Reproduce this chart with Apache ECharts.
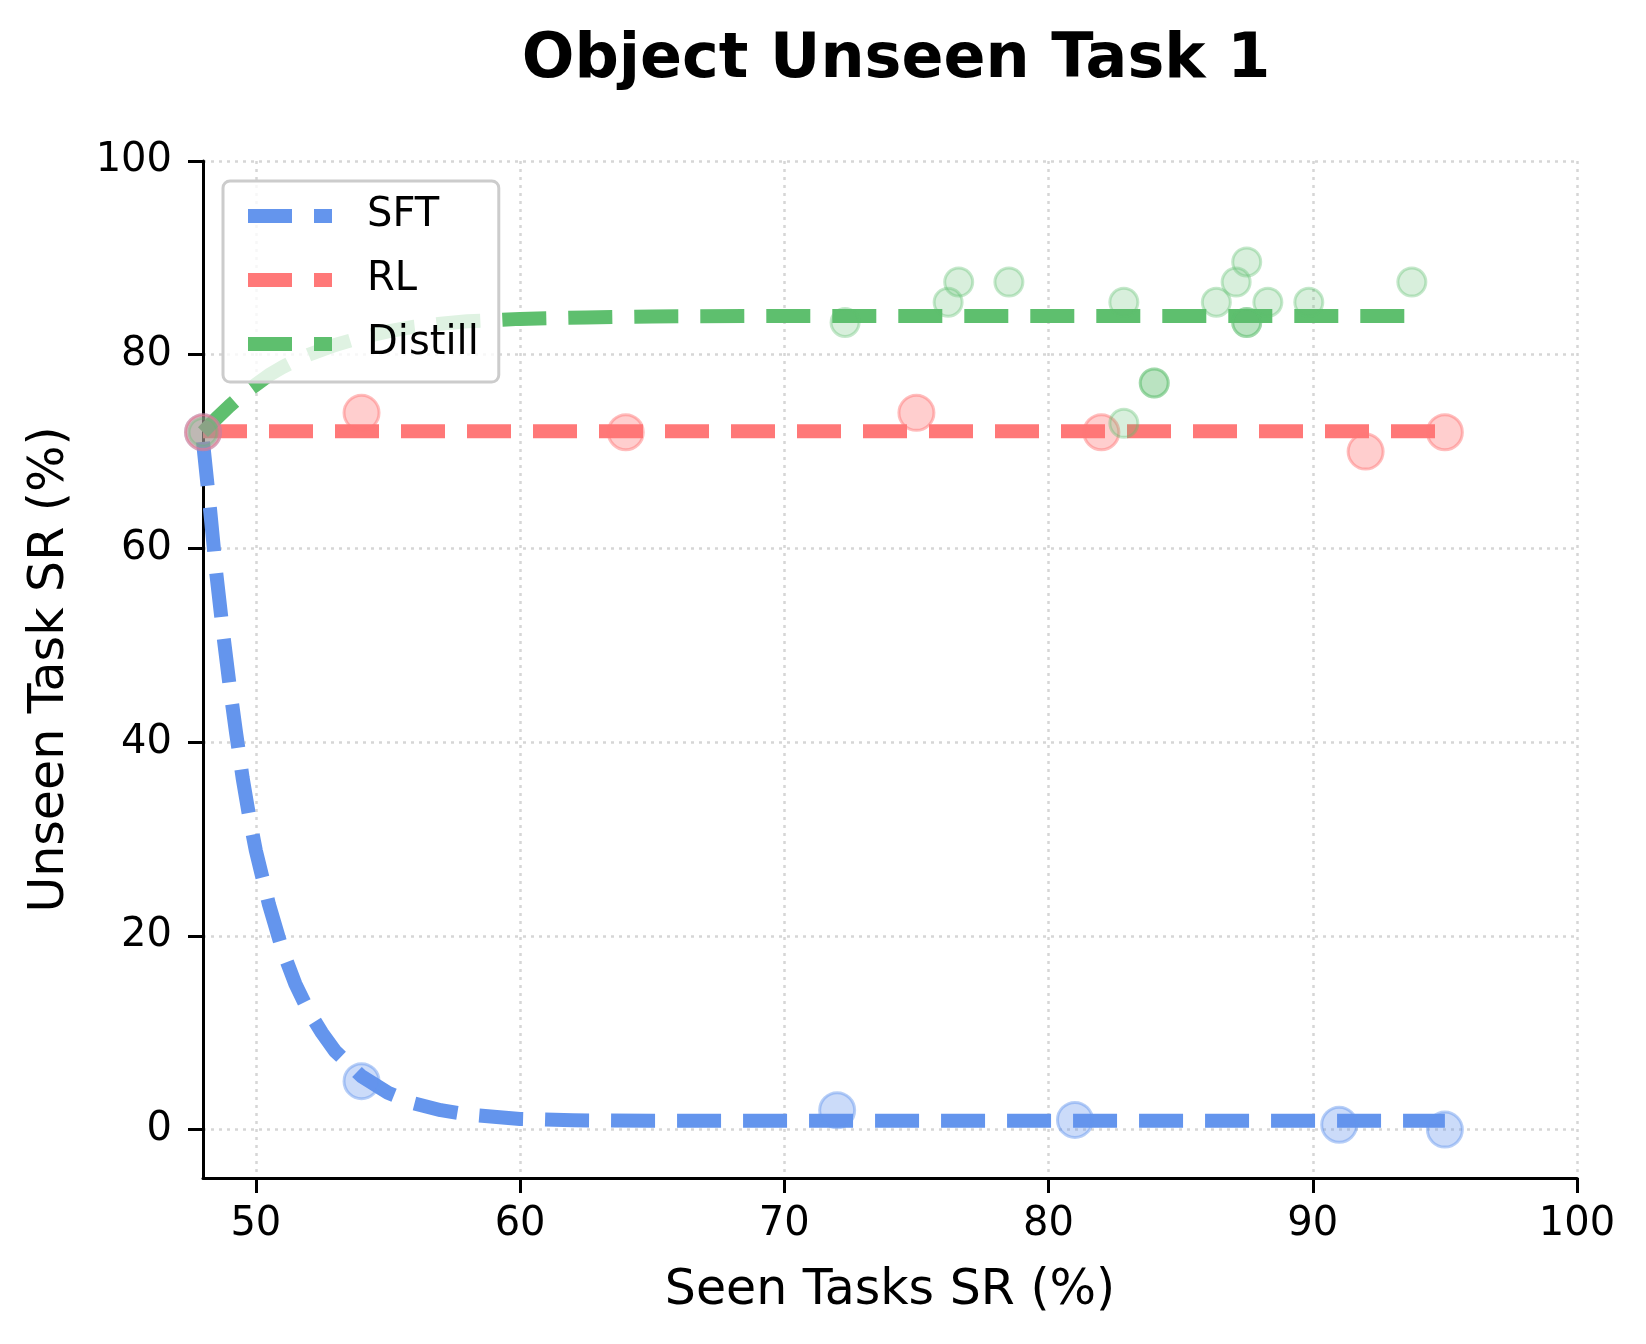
<!DOCTYPE html>
<html><head><meta charset="utf-8">
<script src="https://cdn.jsdelivr.net/npm/echarts@6/dist/echarts.min.js"></script>
<style>html,body{margin:0;padding:0;background:#fff}#c{width:1646px;height:1344px}</style>
</head><body><div id="c"></div>
<script>
// Tick labels
const xTicks = [50, 60, 70, 80, 90, 100];
const yTicks = [0, 20, 40, 60, 80, 100];

// Scatter points (Seen SR, Unseen SR)
const sftX = [48, 54, 72, 81, 91, 95];
const sftY = [72, 5, 2, 1, 0.5, 0];
const rlX = [48, 54, 64, 75, 82, 92, 95];
const rlY = [72, 74, 72, 74, 72, 70, 72];
const distillX = [48, 72.3, 76.2, 76.6, 78.5, 82.85, 82.85, 84.0, 84.0, 86.35, 87.1, 87.5, 87.5, 87.5, 88.3, 89.85, 93.75];
const distillY = [72, 83.33, 85.42, 87.5, 87.5, 85.42, 72.92, 77.08, 77.08, 85.42, 87.5, 89.58, 83.33, 83.33, 85.42, 85.42, 87.5];

// Fitted trend curves
const sftFitX = [48, 48.25, 48.5, 48.75, 49, 49.25, 49.5, 49.75, 50, 50.5, 51, 51.5, 52, 52.5, 53, 54, 55, 56, 57, 58, 60, 62, 65, 95];
const sftFitY = [71, 64.5, 57.5, 51.5, 46, 41, 36.3, 32.3, 28.8, 23.2, 18.6, 15, 12.2, 10, 8.1, 5.5, 3.8, 2.7, 2, 1.55, 1.1, 0.95, 0.9, 0.9];
const rlFitX = [48, 95];
const rlFitY = [72.1, 72.1];
const distillFitX = [48, 48.5, 49, 49.5, 50, 50.5, 51, 51.5, 52, 53, 54, 55, 56, 57, 58, 60, 62.5, 65, 70, 93.8];
const distillFitY = [72, 73.4, 74.7, 75.9, 76.9, 77.9, 78.7, 79.4, 80.0, 81.0, 81.8, 82.4, 82.9, 83.2, 83.45, 83.7, 83.85, 83.95, 84.0, 84.0];

const names = ['SFT', 'RL', 'Distill'];
const colors = ['#6495ED', '#FF7878', '#5EBF6E'];
const FONT = 'DejaVu Sans';

function zip(xs, ys) { return xs.map((x, i) => [x, ys[i]]); }
function hexA(hex, a) {
  const n = parseInt(hex.slice(1), 16);
  return 'rgba(' + ((n >> 16) & 255) + ',' + ((n >> 8) & 255) + ',' + (n & 255) + ',' + a + ')';
}

const fits = [zip(sftFitX, sftFitY), zip(rlFitX, rlFitY), zip(distillFitX, distillFitY)];
const pts = [zip(sftX, sftY), zip(rlX, rlY), zip(distillX, distillY)];
const sizes = [35, 35, 28];
const fillA = [0.42, 0.45, 0.3];

const series = [];
names.forEach((n, i) => {
  series.push({
    name: n, type: 'line', data: fits[i], symbol: 'none', smooth: false, z: 2,
    lineStyle: { color: colors[i], width: 14, type: [44, 22], cap: 'butt', join: 'round' },
    itemStyle: { color: colors[i] }
  });
});
names.forEach((n, i) => {
  series.push({
    name: n + ' points', type: 'scatter', data: pts[i], symbolSize: sizes[i], z: 3,
    itemStyle: { color: hexA(colors[i], fillA[i]), borderColor: hexA(colors[i], fillA[i] + 0.15), borderWidth: 3 }
  });
});

const axisLine = { show: true, onZero: false, lineStyle: { color: '#000', width: 3 } };
const axisTick = { show: true, inside: false, length: 15, lineStyle: { color: '#000', width: 3 } };
const splitLine = { show: true, lineStyle: { color: '#d6d6d6', width: 2.5, type: [3, 5] } };

const option = {
  backgroundColor: '#fff',
  animation: false,
  title: {
    text: 'Object Unseen Task 1', left: 891, top: 25, textAlign: 'center',
    textStyle: { fontFamily: FONT, fontSize: 62, fontWeight: 'bold', color: '#000' }
  },
  legend: {
    data: names, left: 223, top: 181, orient: 'vertical', z: 10,
    padding: [12, 20, 15, 18], itemGap: 18, itemWidth: 84, itemHeight: 14,
    backgroundColor: 'rgba(255,255,255,0.8)', borderColor: '#cccccc', borderWidth: 3, borderRadius: 7,
    itemStyle: { color: 'rgba(0,0,0,0)', borderWidth: 0, opacity: 0 },
    lineStyle: { width: 14, type: [44, 22], cap: 'butt', opacity: 1 },
    textStyle: { fontFamily: FONT, fontSize: 40, lineHeight: 46, color: '#000', padding: [0, 0, 0, 30] }
  },
  grid: { left: 203, top: 161, width: 1374, height: 1017, containLabel: false },
  xAxis: {
    type: 'value', min: 48, max: 100,
    name: 'Seen Tasks SR (%)', nameLocation: 'middle', nameGap: 89,
    nameTextStyle: { fontFamily: FONT, fontSize: 49, color: '#000' },
    axisLine: axisLine, axisTick: Object.assign({ customValues: xTicks }, axisTick),
    axisLabel: { customValues: xTicks, fontFamily: FONT, fontSize: 40, color: '#000', margin: 27 },
    splitLine: splitLine
  },
  yAxis: {
    type: 'value', min: -5, max: 100,
    name: 'Unseen Task SR (%)', nameLocation: 'middle', nameGap: 128,
    nameTextStyle: { fontFamily: FONT, fontSize: 49, color: '#000' },
    axisLine: axisLine, axisTick: Object.assign({ customValues: yTicks }, axisTick),
    axisLabel: { customValues: yTicks, fontFamily: FONT, fontSize: 40, color: '#000', margin: 31 },
    splitLine: splitLine
  },
  series: series
};

const chart = echarts.init(document.getElementById('c'), null, { renderer: 'canvas' });
chart.setOption(option);
</script>
</body></html>
